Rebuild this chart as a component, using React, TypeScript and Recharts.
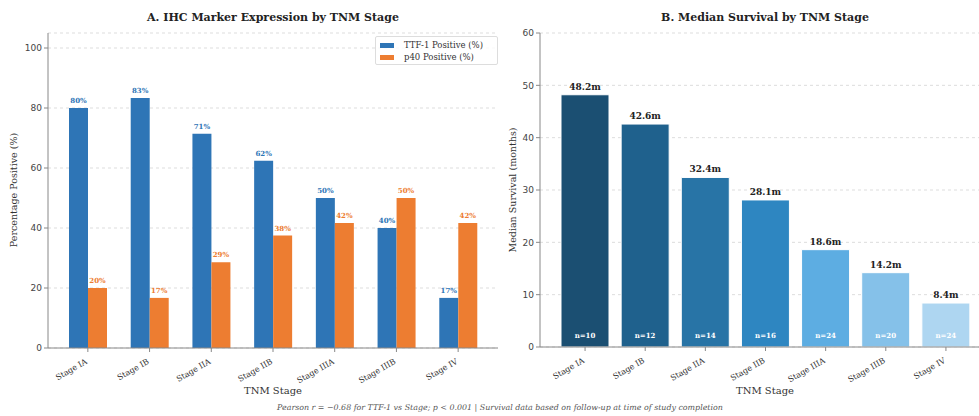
import { BarChart, Bar, XAxis, YAxis, CartesianGrid, LabelList, Cell } from "recharts";

const stages = ["Stage IA", "Stage IB", "Stage IIA", "Stage IIB", "Stage IIIA", "Stage IIIB", "Stage IV"];
const ttf1 = [80, 83.3, 71.4, 62.4, 50, 40, 16.7];
const p40 = [20, 16.7, 28.6, 37.5, 41.7, 50, 41.7];
const survival = [48.2, 42.6, 32.4, 28.1, 18.6, 14.2, 8.4];
const counts = [10, 12, 14, 16, 24, 20, 24];
const survColors = ["#1B4F72", "#1F618D", "#2874A6", "#2E86C1", "#5DADE2", "#85C1E9", "#AED6F1"];
const pctTicks = [0, 20, 40, 60, 80, 100];
const survTicks = [0, 10, 20, 30, 40, 50, 60];

const SERIF = "'DejaVu Serif', serif";
const SANS = "'DejaVu Sans', sans-serif";
const AXIS = "#888";

const markerData = stages.map((s, i) => ({ stage: s, ttf1: ttf1[i], p40: p40[i] }));
const survData = stages.map((s, i) => ({ stage: s, months: survival[i], n: counts[i] }));

function StageTick(props: any) {
  const { x, y, payload } = props;
  return (
    <text
      x={x}
      y={y + 9}
      transform={`rotate(-30 ${x} ${y + 9})`}
      textAnchor="end"
      fontFamily={SERIF}
      fontSize={8}
      fill="#333"
    >
      {payload.value}
    </text>
  );
}

function Text({ children, style }: { children: React.ReactNode; style: React.CSSProperties }) {
  return (
    <div style={{ position: "absolute", fontFamily: SERIF, color: "#222", whiteSpace: "nowrap", ...style }}>
      {children}
    </div>
  );
}

export default function App() {
  return (
    <div style={{ position: "absolute", left: 0, top: 0, width: 979, height: 416, background: "#fff", overflow: "hidden" }}>
      <div style={{ position: "absolute", left: 0, top: 0 }}>
        <BarChart
          width={500}
          height={416}
          data={markerData}
          margin={{ top: 33, right: 2, left: 18, bottom: 38 }}
          barGap={0}
        >
          <CartesianGrid vertical={false} stroke="#ddd" strokeDasharray="3 3" />
          <XAxis
            dataKey="stage"
            height={30}
            padding={{ left: 9, right: 9 }}
            tick={<StageTick />}
            stroke={AXIS}
            tickSize={4}
            interval={0}
          />
          <YAxis
            width={30}
            domain={[0, 105]}
            ticks={pctTicks}
            stroke={AXIS}
            tickSize={4}
            tick={{ fontFamily: SANS, fontSize: 9, fill: "#444" }}
          />
          <Bar dataKey="ttf1" fill="#2E75B6" barSize={19} isAnimationActive={false}>
            <LabelList
              dataKey="ttf1"
              position="top"
              offset={5}
              formatter={(v: any) => `${Math.round(v)}%`}
              style={{ fontFamily: SERIF, fontSize: 7, fontWeight: "bold", fill: "#2E75B6" }}
            />
          </Bar>
          <Bar dataKey="p40" fill="#ED7D31" barSize={19} isAnimationActive={false}>
            <LabelList
              dataKey="p40"
              position="top"
              offset={5}
              formatter={(v: any) => `${Math.round(v)}%`}
              style={{ fontFamily: SERIF, fontSize: 7, fontWeight: "bold", fill: "#ED7D31" }}
            />
          </Bar>
        </BarChart>
      </div>

      <div style={{ position: "absolute", left: 490, top: 0 }}>
        <BarChart
          width={489}
          height={416}
          data={survData}
          margin={{ top: 33, right: 0, left: 20, bottom: 39 }}
        >
          <CartesianGrid vertical={false} stroke="#ddd" strokeDasharray="3 3" />
          <XAxis
            dataKey="stage"
            height={30}
            padding={{ left: 15, right: 3 }}
            tick={<StageTick />}
            stroke={AXIS}
            tickSize={4}
            interval={0}
          />
          <YAxis
            width={30}
            domain={[0, 60]}
            ticks={survTicks}
            stroke={AXIS}
            tickSize={4}
            tick={{ fontFamily: SANS, fontSize: 9, fill: "#444" }}
          />
          <Bar dataKey="months" barSize={48} stroke="#fff" strokeWidth={1} isAnimationActive={false}>
            {survData.map((_, i) => (
              <Cell key={i} fill={survColors[i]} />
            ))}
            <LabelList
              dataKey="months"
              position="top"
              offset={5}
              formatter={(v: any) => `${v}m`}
              style={{ fontFamily: SERIF, fontSize: 9, fontWeight: "bold", fill: "#222" }}
            />
            <LabelList
              dataKey="n"
              content={(p: any) => (
                <text
                  x={p.x + p.width / 2}
                  y={p.y + p.height - 9}
                  textAnchor="middle"
                  fontFamily={SERIF}
                  fontSize={7}
                  fontWeight="bold"
                  fill="#fff"
                >
                  {`n=${p.value}`}
                </text>
              )}
            />
          </Bar>
        </BarChart>
      </div>

      {/* legend */}
      <div
        style={{
          position: "absolute",
          left: 375,
          top: 36,
          width: 121,
          height: 27,
          border: "1px solid #ddd",
          borderRadius: 2,
          background: "rgba(255,255,255,0.8)",
          fontFamily: SERIF,
          fontSize: 8.5,
          color: "#333",
        }}
      >
        <div style={{ display: "flex", alignItems: "center", height: 12, marginTop: 2 }}>
          <span style={{ width: 14, height: 5, background: "#2E75B6", marginLeft: 4, marginRight: 10 }} />
          TTF-1 Positive (%)
        </div>
        <div style={{ display: "flex", alignItems: "center", height: 12 }}>
          <span style={{ width: 14, height: 5, background: "#ED7D31", marginLeft: 4, marginRight: 10 }} />
          p40 Positive (%)
        </div>
      </div>

      <Text style={{ left: 48, width: 450, top: 11, textAlign: "center", fontSize: 11, fontWeight: "bold" }}>
        A. IHC Marker Expression by TNM Stage
      </Text>
      <Text style={{ left: 540, width: 450, top: 11, textAlign: "center", fontSize: 11, fontWeight: "bold" }}>
        B. Median Survival by TNM Stage
      </Text>
      <Text style={{ left: 48, width: 450, top: 385, textAlign: "center", fontSize: 10, color: "#333" }}>
        TNM Stage
      </Text>
      <Text style={{ left: 540, width: 450, top: 385, textAlign: "center", fontSize: 10, color: "#333" }}>
        TNM Stage
      </Text>
      <Text
        style={{
          left: 13,
          top: 190,
          fontSize: 9.5,
          color: "#333",
          transform: "translate(-50%, -50%) rotate(-90deg)",
        }}
      >
        Percentage Positive (%)
      </Text>
      <Text
        style={{
          left: 512,
          top: 190,
          fontSize: 9.5,
          color: "#333",
          transform: "translate(-50%, -50%) rotate(-90deg)",
        }}
      >
        Median Survival (months)
      </Text>
      <Text style={{ left: 0, width: 1000, top: 403, textAlign: "center", fontSize: 7.9, fontStyle: "italic", color: "#555" }}>
        Pearson r = −0.68 for TTF-1 vs Stage; p &lt; 0.001 | Survival data based on follow-up at time of study completion
      </Text>
    </div>
  );
}
